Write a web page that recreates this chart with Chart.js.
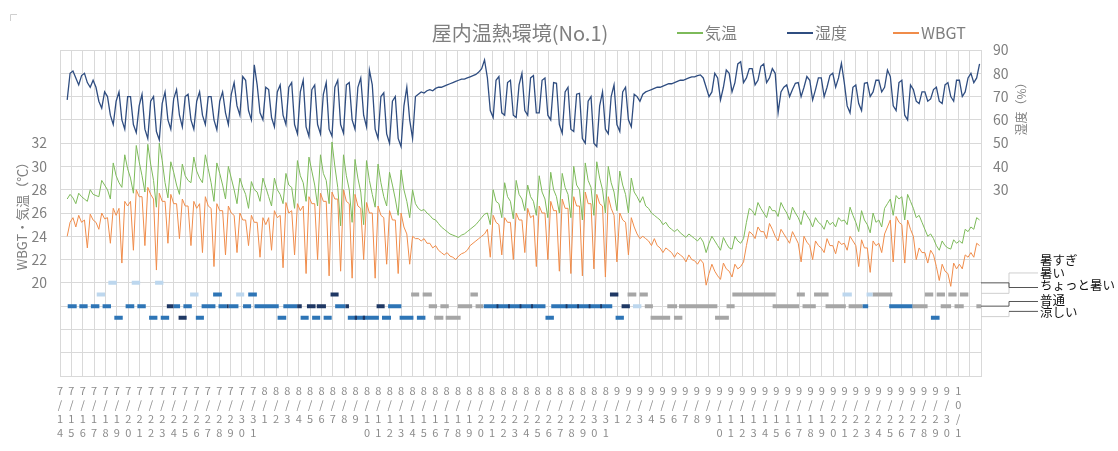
<!DOCTYPE html>
<html lang="ja">
<head>
<meta charset="utf-8">
<title>屋内温熱環境(No.1)</title>
<script src="https://cdn.jsdelivr.net/npm/chart.js@4.4.1/dist/chart.umd.min.js"></script>
<style>
  html, body { margin: 0; padding: 0; background: #fff; }
  #wrap { width: 1118px; height: 451px; position: relative; }
</style>
</head>
<body>
<div id="wrap"><canvas id="chart" width="1118" height="451"></canvas></div>
<script>
// Date categories (one per day, 7/14 - 10/1); the axis has one more empty day at the end
const dateLabels = [
  '7/14','7/15','7/16','7/17','7/18','7/19','7/20','7/21','7/22','7/23','7/24','7/25','7/26','7/27','7/28','7/29','7/30','7/31',
  '8/1','8/2','8/3','8/4','8/5','8/6','8/7','8/8','8/9','8/10','8/11','8/12','8/13','8/14','8/15','8/16','8/17','8/18','8/19','8/20',
  '8/21','8/22','8/23','8/24','8/25','8/26','8/27','8/28','8/29','8/30','8/31',
  '9/1','9/2','9/3','9/4','9/5','9/6','9/7','9/8','9/9','9/10','9/11','9/12','9/13','9/14','9/15','9/16','9/17','9/18','9/19','9/20',
  '9/21','9/22','9/23','9/24','9/25','9/26','9/27','9/28','9/29','9/30','10/1'
];
const AXIS_DAYS = 81;

// Readings are stored in 80 slots of 4 (night, morning, afternoon, evening)
const SLOTS = 80;
const SAMPLES_PER_SLOT = 4;

// 気温 (°C)
const tempValues = [
  null,null,27.2,27.6, 27.3,26.8,27.7,27.4, 27.2,27.0,28.0,27.6, 27.5,27.4,28.8,28.4, 28.0,27.2,30.3,29.2,
  28.6,28.2,31.0,29.8, 29.0,27.7,31.8,30.4, 29.2,27.8,31.9,30.2, 28.8,26.5,32.0,30.5, 28.6,27.3,30.4,29.5,
  28.4,27.6,30.2,29.2, 28.8,28.6,30.8,29.6, 29.0,28.6,31.0,29.8, 28.6,27.0,30.3,29.4, 28.4,27.2,30.0,29.0,
  28.0,26.8,29.0,28.2, 27.6,26.4,28.7,28.0, 27.8,27.0,29.0,28.2, 27.4,26.6,29.0,28.0, 27.6,26.8,29.4,28.4,
  28.2,26.4,30.5,29.2, 28.6,27.0,30.8,29.6, 28.4,26.6,31.0,29.4, 28.8,26.8,32.1,30.0, 28.2,24.9,31.0,29.2,
  28.0,25.2,30.6,29.0, 27.8,25.0,30.5,28.8, 27.6,26.5,30.2,28.6, 27.4,26.6,29.5,28.4, 27.2,25.8,29.7,28.0,
  27.0,25.6,28.0,26.8, 26.4,26.2,26.3,26.0, 25.8,25.5,25.4,25.1, 24.8,24.6,24.4,24.2, 24.1,24.0,23.9,24.1,
  24.2,24.4,24.6,24.8, 25.0,25.3,25.6,25.9, 26.0,25.0,28.0,27.0, 26.8,25.6,28.6,27.4, 27.0,25.5,28.8,27.6,
  27.2,26.2,28.4,27.4, 27.0,25.8,29.2,27.8, 27.2,25.6,29.5,28.0, 27.4,26.0,29.4,28.2, 27.6,25.6,30.0,28.4,
  28.0,25.4,30.3,28.8, 28.2,25.8,30.4,29.0, 28.0,26.0,30.0,28.6, 27.8,26.2,29.6,28.4, 27.6,26.0,29.0,27.8,
  27.4,26.9,27.4,26.6, 26.4,26.0,25.8,25.6, 25.4,25.0,25.2,24.8, 24.6,24.4,24.6,24.3, 24.1,23.9,24.2,24.0,
  23.8,23.6,23.9,23.5, 22.6,23.4,24.0,23.6, 23.2,22.8,23.9,23.4, 23.0,22.9,24.0,23.6, 23.4,23.8,25.2,26.4,
  26.2,25.8,26.9,26.4, 26.0,25.6,26.6,26.2, 26.2,25.7,26.9,26.4, 26.0,25.4,26.5,26.0, 25.6,25.0,26.2,25.8,
  25.4,24.8,25.6,25.2, 25.0,24.6,25.4,25.0, 25.2,24.8,25.6,25.3, 25.4,25.0,26.5,25.8, 25.2,24.4,26.2,25.4,
  25.0,24.3,26.0,25.2, 25.4,24.8,26.4,26.8, 27.2,25.8,27.5,27.2, 27.4,25.4,27.6,27.0, 26.4,25.6,25.8,25.2,
  24.6,24.0,24.2,23.8, 23.2,22.8,23.6,23.2, 23.0,22.9,23.7,23.4, 23.6,23.4,24.6,24.4, 24.8,24.6,25.6,25.4
];

// 湿度 (%)
const humidValues = [
  null,null,68.6,80.0, 81.0,78.0,75.0,79.0, 80.0,76.0,74.0,77.0, 74.0,68.0,65.0,72.0, 70.0,62.0,58.0,68.0,
  72.0,60.0,56.0,70.0, 70.0,58.0,54.5,66.0, 71.0,56.0,52.0,68.0, 70.0,55.0,51.4,67.0, 72.0,60.0,56.0,69.0,
  73.0,62.0,57.0,70.0, 71.0,60.0,56.0,68.0, 72.0,62.0,58.0,70.0, 70.0,60.0,55.7,68.0, 72.0,63.0,58.0,71.0,
  76.0,66.0,62.0,78.6, 77.0,64.0,60.0,83.6, 75.0,63.0,60.0,74.0, 73.0,61.0,57.0,72.0, 75.0,62.0,58.0,74.0,
  76.0,58.0,54.0,72.0, 77.0,57.0,52.9,73.0, 75.0,58.0,54.0,71.0, 76.0,56.0,53.0,74.0, 77.0,58.0,54.3,75.0,
  76.0,60.0,56.0,74.0, 78.0,62.0,57.0,81.4, 75.0,56.0,52.0,70.0, 71.6,54.0,50.0,68.0, 70.0,52.0,48.5,66.0,
  74.0,60.0,52.0,70.0, 71.0,72.0,71.5,72.5, 73.0,72.5,73.5,74.0, 74.0,74.5,75.0,75.5, 76.0,76.5,77.0,77.5,
  77.5,78.0,78.5,79.0, 79.5,80.5,82.0,85.7, 78.0,64.0,61.0,77.0, 78.6,63.0,62.0,76.0, 77.0,62.0,61.0,75.0,
  80.0,64.0,62.0,78.0, 79.0,63.0,63.0,77.0, 78.0,62.0,60.0,76.0, 75.7,58.0,54.3,72.0, 74.0,56.0,55.0,71.0,
  71.4,52.0,50.0,68.0, 70.0,50.0,48.5,66.0, 72.0,56.0,54.0,70.0, 75.0,58.0,55.0,72.0, 74.0,60.0,57.0,71.0,
  70.0,68.0,71.0,72.0, 72.5,73.0,73.5,74.0, 74.0,74.5,75.0,75.5, 75.5,76.0,76.5,77.0, 77.0,77.5,78.0,78.5,
  78.5,79.0,79.3,78.0, 74.0,70.0,72.0,80.0, 78.0,68.6,74.0,81.4, 80.0,72.0,76.0,84.0, 85.0,76.0,78.0,82.0,
  82.0,75.0,77.0,83.0, 84.0,76.0,78.0,82.0, 80.0,63.0,72.0,74.0, 75.0,70.0,73.0,75.7, 76.0,70.0,74.0,78.6,
  77.0,68.6,73.0,78.0, 78.0,70.0,74.0,79.0, 80.0,74.0,78.0,84.3, 76.0,66.0,63.0,74.0, 75.0,67.0,64.0,75.7,
  76.0,70.0,72.0,77.0, 77.0,72.0,74.0,81.4, 78.6,66.0,64.0,76.0, 77.0,62.0,60.0,75.0, 73.0,68.0,67.0,72.0,
  72.0,68.0,69.0,73.0, 74.0,68.0,67.0,75.0, 76.0,70.0,68.0,77.0, 77.0,70.0,72.0,78.0, 80.0,76.0,78.0,84.0
];

// WBGT (°C)
const wbgtValues = [
  null,null,24.0,25.2, 25.6,24.8,25.8,25.2, 25.4,23.0,25.9,25.4, 25.2,24.6,26.0,25.5, 25.6,23.4,26.4,25.8,
  26.4,21.7,27.0,26.6, 27.0,22.8,28.0,27.4, 27.4,23.2,28.2,27.6, 27.2,21.1,27.7,27.0, 27.0,23.4,27.6,26.8,
  26.8,23.8,27.2,26.6, 26.6,23.2,27.0,26.4, 26.8,22.6,27.4,26.6, 26.4,21.4,26.8,26.2, 26.2,22.4,26.6,26.0,
  25.8,22.6,26.0,25.4, 25.4,23.2,25.8,25.2, 25.2,22.2,25.6,25.0, 25.6,22.8,26.2,25.6, 25.8,21.3,26.9,26.0,
  26.2,22.4,26.8,26.2, 26.6,20.8,27.4,26.8, 26.8,22.0,27.7,27.0, 27.0,20.6,27.8,27.2, 27.2,21.0,28.0,27.0,
  26.8,20.4,27.6,26.6, 26.4,22.0,26.9,26.0, 26.0,20.4,26.6,25.8, 25.6,21.6,26.2,25.4, 25.4,20.8,26.0,24.8,
  24.2,21.6,24.0,23.8, 23.8,23.6,23.8,23.4, 23.4,23.0,23.2,22.8, 22.6,22.4,22.6,22.3, 22.2,22.0,22.3,22.5,
  22.6,22.8,23.2,23.4, 23.6,23.8,24.0,24.2, 24.6,22.2,25.8,25.2, 25.0,22.4,25.6,25.2, 25.2,22.0,26.0,25.4,
  25.4,22.6,26.4,25.6, 25.8,21.4,26.6,26.0, 26.0,22.0,27.0,26.2, 26.2,21.0,27.2,26.4, 26.4,20.8,27.4,26.6,
  26.6,20.6,27.8,26.8, 26.8,21.2,27.6,26.8, 26.6,20.5,27.4,26.4, 25.8,21.8,26.0,25.4, 25.2,22.4,25.6,24.8,
  24.2,23.8,24.0,23.8, 23.6,23.2,23.8,23.2, 23.0,22.6,23.0,22.8, 22.6,22.2,22.6,22.4, 22.2,21.8,22.4,22.0,
  21.9,21.6,22.0,21.7, 19.8,20.8,21.6,21.0, 20.6,20.3,21.7,21.2, 21.0,20.5,21.6,21.2, 21.4,21.8,23.2,24.4,
  24.2,23.8,24.8,24.4, 24.4,23.8,25.1,24.6, 24.0,23.6,24.6,24.2, 23.8,23.4,24.4,23.9, 23.4,21.8,24.0,23.5,
  23.2,22.0,23.6,23.2, 23.0,22.6,23.8,23.2, 23.2,22.5,23.6,23.3, 23.4,22.8,24.0,23.6, 23.2,21.4,23.7,23.0,
  23.0,20.9,23.6,23.2, 23.4,22.6,24.2,24.8, 25.4,21.8,25.7,25.2, 25.0,21.7,25.4,24.6, 24.0,22.0,23.0,22.6,
  22.6,21.7,22.8,22.4, 21.4,20.2,21.6,21.0, 20.8,19.7,21.7,21.2, 21.6,21.2,22.4,22.2, 22.6,22.2,23.4,23.2
];

// 温冷感 votes: [row level on left axis, start slot, end slot]
const voteLightBlue = [
  [20, 4.2, 4.93], [20, 6.23, 6.96], [20, 8.26, 8.98],
  [19, 3.19, 3.91], [19, 11.3, 12.03], [19, 15.3, 16.0], [19, 67.97, 68.78], [19, 70.06, 70.58],
  [18, 49.77, 50.5]
];
const voteBlue = [
  [19, 13.3, 14.06], [19, 16.35, 17.1],
  [18, 0.67, 1.45], [18, 1.68, 2.4], [18, 2.68, 3.42], [18, 3.7, 4.43], [18, 5.7, 6.45], [18, 6.72, 7.45],
  [18, 9.85, 10.43], [18, 10.72, 11.45], [18, 12.3, 13.5], [18, 13.77, 14.5], [18, 14.65, 15.5], [18, 15.9, 16.6],
  [18, 16.9, 19.0], [18, 19.4, 20.6], [18, 23.9, 24.8], [18, 28.5, 29.65], [18, 36.8, 42.17], [18, 42.67, 47.97],
  [18, 69.7, 70.2], [18, 72.03, 74.06],
  [17, 4.72, 5.45], [17, 7.74, 8.46], [17, 8.75, 9.48], [17, 11.8, 12.5], [17, 18.9, 19.65], [17, 20.9, 21.6],
  [17, 21.9, 22.6], [17, 22.9, 23.6], [17, 25.0, 27.7], [17, 27.97, 28.75], [17, 29.5, 30.7], [17, 31.0, 31.74],
  [17, 42.17, 42.9], [17, 48.26, 48.98], [17, 75.65, 76.4]
];
const voteNavy = [
  [19, 23.5, 24.2], [19, 47.77, 48.5],
  [18, 9.28, 9.85], [18, 14.5, 14.65], [18, 20.6, 21.0], [18, 21.45, 22.2], [18, 22.3, 23.1], [18, 24.8, 25.1],
  [18, 27.5, 28.2], [18, 48.78, 49.5],
  [18, 37.92, 38.08], [18, 38.92, 39.08], [18, 39.92, 40.08], [18, 40.92, 41.08],
  [18, 43.92, 44.08], [18, 44.92, 45.08], [18, 45.92, 46.08], [18, 46.92, 47.08],
  [17, 10.3, 11.0], [17, 25.6, 25.8], [17, 26.3, 26.5]
];
const voteGray = [
  [19, 30.5, 31.2], [19, 31.5, 32.3], [19, 35.65, 36.3], [19, 49.3, 50.06], [19, 50.35, 51.06], [19, 58.4, 62.17],
  [19, 64.0, 64.7], [19, 65.5, 66.76], [19, 70.58, 72.3], [19, 75.13, 75.85], [19, 76.15, 76.87], [19, 77.16, 77.88],
  [19, 78.17, 78.9],
  [18, 32.03, 32.75], [18, 33.04, 33.77], [18, 34.55, 35.8], [18, 36.1, 36.75], [18, 50.8, 51.5], [18, 52.75, 53.6],
  [18, 53.77, 57.1], [18, 57.9, 58.6], [18, 61.9, 64.2], [18, 64.5, 65.65], [18, 66.5, 68.26], [18, 68.5, 69.7],
  [18, 74.06, 75.36], [18, 76.5, 77.4], [18, 77.7, 78.5], [18, 79.6, 80.0],
  [17, 32.5, 33.3], [17, 33.5, 34.8], [17, 51.3, 53.0], [17, 53.33, 54.06], [17, 56.9, 58.1]
];

// Sensation scale labels and the left-axis level each one sits at
const sensationLabels = ['暑すぎ', '暑い', 'ちょっと暑い', '普通', '涼しい'];
const sensationLevels = [21.95, 20.85, 19.8, 18.5, 17.5];

// Tick ranges
const leftTickRange = [20, 32];
const rightTickRange = [30, 90];

// Helpers
function toPoints(values) {
  return values.map((v, i) => ({
    x: Math.floor(i / SAMPLES_PER_SLOT) + ((i % SAMPLES_PER_SLOT) + 0.5) / SAMPLES_PER_SLOT,
    y: v
  }));
}

function toDashes(segs) {
  const pts = [];
  segs.forEach(([level, start, end]) => {
    pts.push({ x: start, y: level }, { x: end, y: level }, { x: end, y: null });
  });
  return pts;
}

function dashSet(label, segs, color) {
  return {
    label: label,
    data: toDashes(segs),
    yAxisID: 'y',
    borderColor: color,
    backgroundColor: color,
    borderWidth: 4,
    borderCapStyle: 'butt',
    pointRadius: 0,
    spanGaps: false
  };
}

const JP_FONT = "'Noto Sans CJK JP', 'Noto Sans', sans-serif";

// Title, legend, axis titles and sensation labels
const decorPlugin = {
  id: 'decor',
  afterDraw(chart) {
    const ctx = chart.ctx;
    const area = chart.chartArea;
    const y = chart.scales.y;
    ctx.save();

    // corner mark
    ctx.strokeStyle = '#cfcfcf';
    ctx.lineWidth = 1;
    ctx.beginPath();
    ctx.moveTo(10.5, 21); ctx.lineTo(10.5, 14.5); ctx.lineTo(17, 14.5);
    ctx.stroke();

    // title
    ctx.fillStyle = '#7f7f7f';
    ctx.font = '20px ' + JP_FONT;
    ctx.textAlign = 'center';
    ctx.textBaseline = 'middle';
    ctx.fillText('屋内温熱環境(No.1)', 520, 33);

    // legend
    const legend = [
      { text: '気温', color: '#7dba5a', x: 677 },
      { text: '湿度', color: '#2f4d80', x: 787 },
      { text: 'WBGT', color: '#f08c4a', x: 893 }
    ];
    ctx.font = '16px ' + JP_FONT;
    ctx.textAlign = 'left';
    legend.forEach(item => {
      ctx.strokeStyle = item.color;
      ctx.lineWidth = 2;
      ctx.beginPath();
      ctx.moveTo(item.x, 33);
      ctx.lineTo(item.x + 26, 33);
      ctx.stroke();
      ctx.fillStyle = '#7f7f7f';
      ctx.fillText(item.text, item.x + 28, 33);
    });

    // left axis title
    ctx.save();
    ctx.translate(22, 213);
    ctx.rotate(-Math.PI / 2);
    ctx.font = '13px ' + JP_FONT;
    ctx.fillStyle = '#7f7f7f';
    ctx.textAlign = 'center';
    ctx.fillText('WBGT・気温（℃）', 0, 0);
    ctx.restore();

    // right axis title
    ctx.save();
    ctx.translate(1021, 106);
    ctx.rotate(-Math.PI / 2);
    ctx.font = '12px ' + JP_FONT;
    ctx.fillStyle = '#7f7f7f';
    ctx.textAlign = 'center';
    ctx.fillText('湿度（%）', 0, 0);
    ctx.restore();

    // sensation labels with leader lines
    const R = area.right;
    const px = v => y.getPixelForValue(v);
    const poly = (pts, color) => {
      ctx.strokeStyle = color;
      ctx.lineWidth = 1;
      ctx.beginPath();
      pts.forEach((p, i) => (i ? ctx.lineTo(p[0], p[1]) : ctx.moveTo(p[0], p[1])));
      ctx.stroke();
    };
    poly([[R, px(19.1)], [R + 28, px(19.1)], [R + 28, px(20.85)], [R + 57, px(20.85)]], '#cfcfcf');
    poly([[R, px(17.1)], [R + 28, px(17.1)], [R + 28, px(17.55)]], '#cfcfcf');
    poly([[R, px(20)], [R + 28, px(20)], [R + 28, px(19.6)], [R + 57, px(19.6)]], '#555');
    poly([[R, px(18)], [R + 28, px(18)], [R + 28, px(18.4)], [R + 57, px(18.4)]], '#555');
    poly([[R + 28, px(17.55)], [R + 57, px(17.55)]], '#555');

    ctx.font = '12.5px ' + JP_FONT;
    ctx.fillStyle = '#111';
    ctx.textAlign = 'left';
    ctx.textBaseline = 'middle';
    sensationLabels.forEach((t, i) => ctx.fillText(t, R + 59, px(sensationLevels[i])));

    ctx.restore();
  }
};

const ctx = document.getElementById('chart').getContext('2d');
const chart = new Chart(ctx, {
  type: 'line',
  data: {
    datasets: [
      dashSet('navy', voteNavy, '#1f3864'),
      dashSet('light', voteLightBlue, '#bdd7ee'),
      dashSet('gray', voteGray, '#a6a6a6'),
      dashSet('blue', voteBlue, '#2e75b6'),
      {
        label: 'WBGT',
        data: toPoints(wbgtValues),
        yAxisID: 'y',
        borderColor: '#f08c4a',
        borderWidth: 1,
        pointRadius: 0,
        tension: 0
      },
      {
        label: '湿度',
        data: toPoints(humidValues),
        yAxisID: 'y1',
        borderColor: '#2f4d80',
        borderWidth: 1.3,
        pointRadius: 0,
        tension: 0
      },
      {
        label: '気温',
        data: toPoints(tempValues),
        yAxisID: 'y',
        borderColor: '#7dba5a',
        borderWidth: 1,
        pointRadius: 0,
        tension: 0
      }
    ]
  },
  options: {
    responsive: false,
    animation: false,
    events: [],
    layout: { padding: { top: 50, left: 0, right: 0, bottom: 0 } },
    plugins: {
      legend: { display: false },
      title: { display: false },
      tooltip: { enabled: false }
    },
    scales: {
      x: {
        type: 'linear',
        min: 0,
        max: SLOTS,
        afterFit: scale => { scale.height = 75; },
        // one tick per calendar day across the axis
        afterBuildTicks: scale => {
          scale.ticks = Array.from({ length: AXIS_DAYS + 1 }, (_, j) => ({ value: j * SLOTS / AXIS_DAYS }));
        },
        grid: { color: '#d9d9d9', drawTicks: false },
        border: { color: '#d9d9d9' },
        ticks: {
          autoSkip: false,
          maxRotation: 0,
          minRotation: 0,
          padding: 8,
          color: '#8c8c8c',
          font: { family: JP_FONT, size: 11, lineHeight: '14px' },
          callback: (value, index) => (dateLabels[index] ? dateLabels[index].split('') : '')
        }
      },
      y: {
        position: 'left',
        min: 12,
        max: 40,
        afterFit: scale => { scale.width = 60; },
        grid: { color: '#d9d9d9', drawTicks: false },
        border: { color: '#d9d9d9' },
        ticks: {
          stepSize: 2,
          padding: 13,
          color: '#7f7f7f',
          font: { family: JP_FONT, size: 14 },
          callback: v => (v >= leftTickRange[0] && v <= leftTickRange[1] ? v : '')
        }
      },
      y1: {
        position: 'right',
        min: -50,
        max: 90,
        afterFit: scale => { scale.width = 137; },
        grid: { display: false, drawTicks: false },
        border: { display: false },
        ticks: {
          stepSize: 10,
          padding: 12,
          color: '#7f7f7f',
          font: { family: JP_FONT, size: 14 },
          callback: v => (v >= rightTickRange[0] && v <= rightTickRange[1] ? v : '')
        }
      }
    }
  },
  plugins: [decorPlugin]
});
</script>
</body>
</html>
